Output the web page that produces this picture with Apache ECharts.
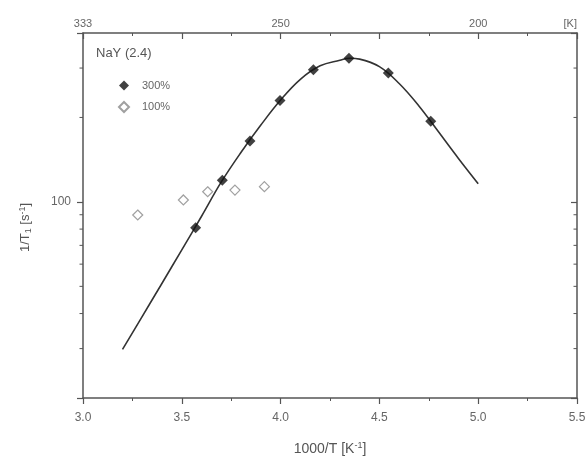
<!DOCTYPE html>
<html>
<head>
<meta charset="utf-8">
<script src="https://cdn.jsdelivr.net/npm/echarts@6/dist/echarts.min.js"></script>
<style>
  html, body { margin: 0; padding: 0; background: #fff; }
  #chart { width: 587px; height: 457px; }
</style>
</head>
<body>
<div id="chart"></div>
<script>
// 300% loading, filled diamonds
const x300 = [3.570, 3.705, 3.845, 3.997, 4.166, 4.346, 4.545, 4.760];
const y300 = [80.9, 119.4, 164.8, 230, 296, 325, 288, 194];
// 100% loading, open diamonds
const x100 = [3.277, 3.508, 3.631, 3.769, 3.918];
const y100 = [89.8, 101.6, 108.7, 110.2, 113.3];
// fitted curve
const xFit = [3.2, 3.3, 3.4, 3.5, 3.6, 3.7, 3.8, 3.9, 4.0, 4.1, 4.2, 4.3, 4.35, 4.4, 4.5, 4.6, 4.7, 4.8, 4.9, 5.0];
const yFit = [29.8, 39.1, 51.3, 67.5, 88.9, 117.8, 150.3, 187.9, 230.7, 273.5, 305.5, 319.9, 325.1, 322.8, 303.4, 264.2, 219.8, 177.4, 142.9, 116.1];
// axis ticks / labels
const yMinorTicks = [30, 40, 50, 60, 70, 80, 90, 200, 300];
const topLabelValues = [3.0, 4.0, 5.0, 5.5];
const topLabels = ["333", "250", "200", "[K]"];

const font = "Liberation Sans, Arial, sans-serif";
const axisColor = "#555";
const labelColor = "#666";

const pair = (xs, ys) => xs.map((x, i) => [x, ys[i]]);

var myChart = echarts.init(document.getElementById("chart"));

const yAxisBase = {
  type: "log",
  logBase: 10,
  min: 20,
  max: 400,
  splitLine: { show: false },
  axisLine: { show: true, lineStyle: { color: axisColor, width: 1.5 } },
  axisTick: { show: true, length: 6, lineStyle: { color: axisColor, width: 1.2 } },
};

myChart.setOption({
  animation: false,
  textStyle: { fontFamily: font },
  title: {
    text: "NaY (2.4)",
    left: 91,
    top: 42,
    textStyle: { fontSize: 13, fontWeight: "normal", color: "#555", fontFamily: font },
  },
  legend: {
    orient: "vertical",
    left: 113,
    top: 75,
    itemWidth: 10,
    itemHeight: 10,
    itemGap: 10,
    data: ["300%", "100%"],
    textStyle: { fontSize: 11, color: labelColor, padding: [0, 0, 0, 8], fontFamily: font },
  },
  grid: { left: 83, right: 10, top: 33, bottom: 59, containLabel: false, outerBoundsMode: "none" },
  xAxis: [
    {
      type: "value",
      min: 3.0,
      max: 5.5,
      interval: 0.5,
      position: "bottom",
      name: "1000/T [K{sup|-1}]",
      nameLocation: "middle",
      nameGap: 43,
      nameTextStyle: {
        fontSize: 14,
        color: "#555",
        rich: { sup: { fontSize: 9, verticalAlign: "top", color: "#555", padding: [0, 0, 7, 0] } },
      },
      splitLine: { show: false },
      axisLine: { lineStyle: { color: axisColor, width: 1.5 } },
      axisTick: { length: 6, lineStyle: { color: axisColor, width: 1.2 } },
      minorTick: { show: true, splitNumber: 2, length: 3, lineStyle: { color: axisColor } },
      axisLabel: {
        margin: 14,
        fontSize: 12,
        color: labelColor,
        formatter: (v) => v.toFixed(1),
      },
    },
    {
      type: "value",
      min: 3.0,
      max: 5.5,
      interval: 0.5,
      position: "top",
      splitLine: { show: false },
      axisLine: { lineStyle: { color: axisColor, width: 1.5 } },
      axisTick: { inside: true, length: 6, lineStyle: { color: axisColor, width: 1.2 } },
      minorTick: { show: true, splitNumber: 2, length: 3, lineStyle: { color: axisColor } },
      axisLabel: {
        margin: 4,
        fontSize: 11,
        color: labelColor,
        showMinLabel: true,
        showMaxLabel: true,
        alignMaxLabel: "right",
        formatter: (v) => {
          const i = topLabelValues.findIndex((t) => Math.abs(t - v) < 1e-6);
          return i >= 0 ? topLabels[i] : "";
        },
      },
    },
  ],
  yAxis: [
    Object.assign({}, yAxisBase, {
      position: "left",
      name: "1/T{sub|1} [s{sup|-1}]",
      nameLocation: "middle",
      nameGap: 50,
      nameTextStyle: {
        fontSize: 13,
        color: "#555",
        padding: [0, 24, 0, 0],
        rich: {
          sub: { fontSize: 9, color: "#555", verticalAlign: "bottom", padding: [6, 0, 0, 0] },
          sup: { fontSize: 9, color: "#555", verticalAlign: "top", padding: [0, 0, 6, 0] },
        },
      },
      axisLabel: {
        margin: 12,
        fontSize: 12,
        color: labelColor,
        formatter: (v) => (Math.abs(v - 100) < 0.5 ? "100" : ""),
      },
    }),
    Object.assign({}, yAxisBase, {
      position: "right",
      axisTick: { show: true, inside: true, length: 6, lineStyle: { color: axisColor, width: 1.2 } },
      axisLabel: { show: false },
    }),
  ],
  series: [
    {
      name: "fit",
      type: "line",
      smooth: 0.4,
      showSymbol: false,
      data: pair(xFit, yFit),
      lineStyle: { color: "#333", width: 1.6 },
      z: 2,
    },
    {
      name: "300%",
      type: "scatter",
      symbol: "diamond",
      symbolSize: 11,
      data: pair(x300, y300),
      itemStyle: { color: "#111" },
      z: 3,
    },
    {
      name: "100%",
      type: "scatter",
      symbol: "diamond",
      symbolSize: 10,
      data: pair(x100, y100),
      itemStyle: { color: "#fff", borderColor: "#888", borderWidth: 1.2 },
      z: 3,
    },
    {
      // minor ticks of the log axes, left (outside) and right (inside)
      name: "minorTicks",
      type: "custom",
      silent: true,
      data: yMinorTicks.map((v) => [3.0, v]),
      renderItem: (params, api) => {
        const v = api.value(1);
        const l = api.coord([3.0, v]);
        const r = api.coord([5.5, v]);
        const style = { stroke: axisColor, lineWidth: 1 };
        return {
          type: "group",
          children: [
            { type: "line", shape: { x1: l[0] - 3.5, y1: l[1], x2: l[0], y2: l[1] }, style },
            { type: "line", shape: { x1: r[0] - 3.5, y1: r[1], x2: r[0], y2: r[1] }, style },
          ],
        };
      },
    },
  ],
});
window.addEventListener("resize", () => {
  myChart.resize();
});
</script>
</body>
</html>
